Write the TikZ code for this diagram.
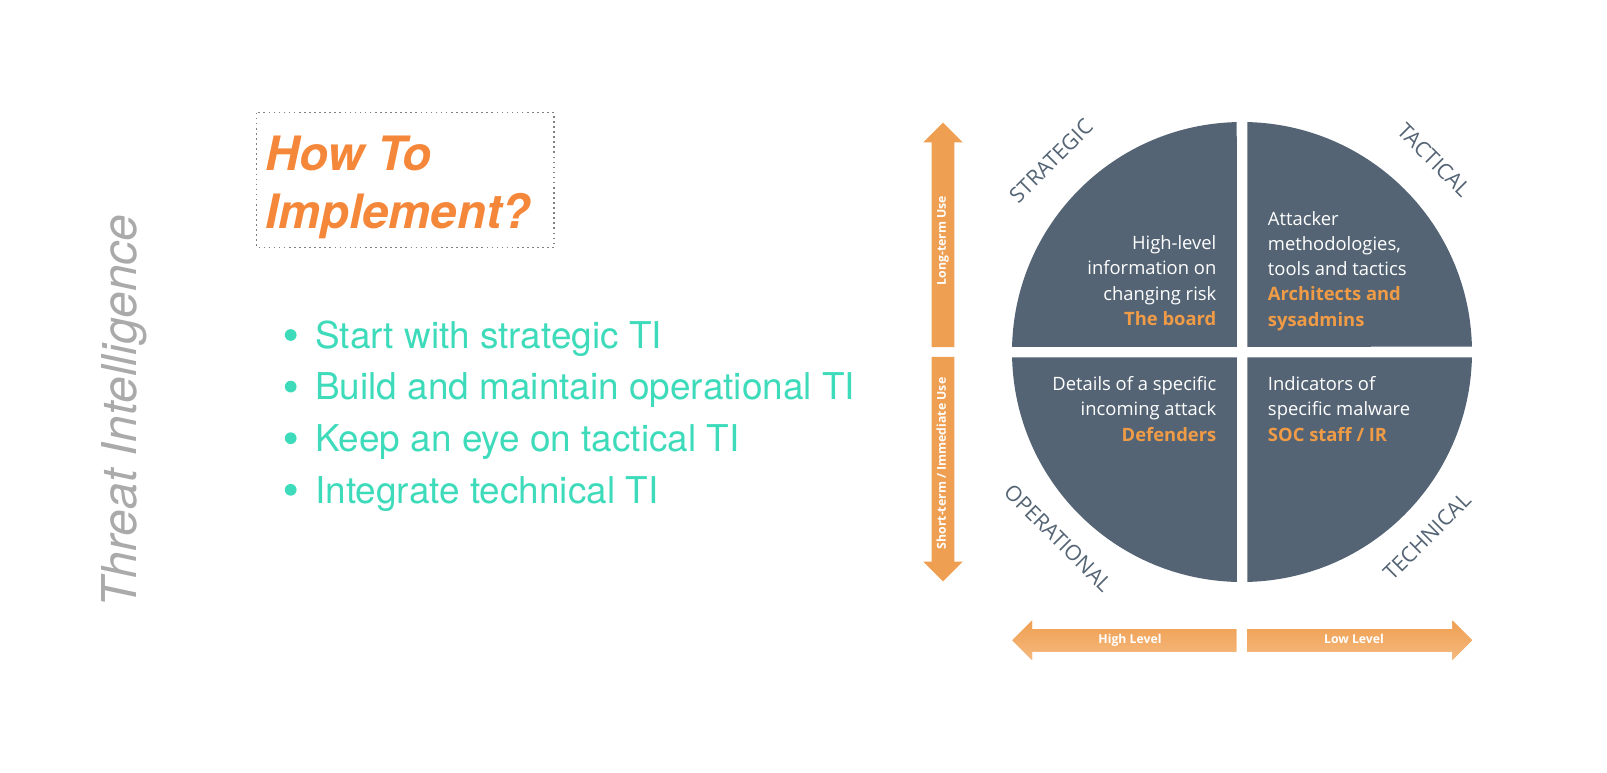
\documentclass[tikz,border=0pt]{standalone}
\usepackage{fontspec}
\setmainfont{TeX Gyre Heros}
\newfontfamily\quadfont{Open Sans}
\usetikzlibrary{shapes.arrows}
\definecolor{slate}{RGB}{84,100,116}
\definecolor{arroworange}{RGB}{239,159,82}
\definecolor{arrowlight}{RGB}{245,185,125}
\definecolor{roleorange}{RGB}{240,155,70}
\definecolor{headorange}{RGB}{245,135,58}
\definecolor{mint}{RGB}{62,219,187}
\definecolor{sidegray}{RGB}{170,170,170}
\newcommand{\rolename}[1]{{\bfseries\color{roleorange}#1}}

\begin{document}
\begin{tikzpicture}[x=0.75pt,y=0.75pt,yscale=-1,xscale=1,
  quadtext/.style={inner sep=0pt, text=white, font=\quadfont\fontsize{13.8}{18.9}\selectfont},
  ringlabel/.style={inner sep=0pt, text=slate, font=\quadfont\fontsize{16}{16}\selectfont},
  usearrow/.style={single arrow, fill=arroworange, draw=none, single arrow head extend=6.4pt,
    single arrow tip angle=90, inner xsep=0pt, inner ysep=4.15pt, text height=6.3pt, text depth=1.9pt,
    text=white, font=\quadfont\bfseries\fontsize{9.2}{10}\selectfont},
  bulletline/.style={anchor=base west, inner sep=0pt, text=mint, font=\fontsize{27.7}{30}\selectfont},
  bulletdot/.style={circle, fill=mint, inner sep=0pt, minimum size=8.8pt}
]
\useasboundingbox (0,0) rectangle (1607,772);

% side title
\node[rotate=90, text=sidegray, font=\itshape\fontsize{36}{36}\selectfont] (sidetitle) at (124,411) {Threat Intelligence};

% heading in dotted box
\draw[color=gray, line width=1.1pt, dash pattern=on 1.2pt off 2.6pt] (256.7,112.7) rectangle (554,247.7);
\node[anchor=north west, inner sep=0pt, align=left, text=headorange, font=\bfseries\itshape\fontsize{35.5}{43.8}\selectfont] (howto) at (265,135.3) {How To\\Implement?};

% bullet list
\foreach \txt [count=\i] in {Start with strategic TI, Build and maintain operational TI, Keep an eye on tactical TI, Integrate technical TI}{
  \pgfmathsetmacro\yy{348.3+51.6*(\i-1)}
  \node[bulletline] (item\i) at (315,\yy) {\txt};
  \node[bulletdot] (dot\i) at (290.7,\yy-13.3) {};
}

%Quadrants
\fill[slate] (1236.75,346.75) -- (1012.06,346.75) arc[start angle=181.31, end angle=268.69, radius=230] -- cycle;
\fill[slate] (1247.25,346.75) -- (1247.25,122.06) arc[start angle=271.31, end angle=358.69, radius=230] -- cycle;
\fill[slate] (1247.25,357.25) -- (1471.94,357.25) arc[start angle=1.31, end angle=88.69, radius=230] -- cycle;
\fill[slate] (1236.75,357.25) -- (1236.75,581.94) arc[start angle=91.31, end angle=178.69, radius=230] -- cycle;

% quadrant texts
\node[quadtext, anchor=north east, align=right] (strategictext) at (1216.6,235.5) {High-level\\information on\\changing risk\\\rolename{The board}};
\node[quadtext, anchor=north west, align=left] (tacticaltext) at (1267.7,211) {Attacker\\methodologies,\\tools and tactics\\\rolename{Architects and}\\\rolename{sysadmins}};
\node[quadtext, anchor=north east, align=right] (operationaltext) at (1216.6,376.3) {Details of a specific\\incoming attack\\\rolename{Defenders}};
\node[quadtext, anchor=north west, align=left] (technicaltext) at (1267.7,376.3) {Indicators of\\specific malware\\\rolename{SOC staff / IR}};

% ring labels
\node[ringlabel, rotate=45] (strategic) at (1051,161) {STRATEGIC};
\node[ringlabel, rotate=-45] (tactical) at (1434,160) {TACTICAL};
\node[ringlabel, rotate=-45] (operational) at (1058,538) {OPERATIONAL};
\node[ringlabel, rotate=45] (technical) at (1427,536.5) {TECHNICAL};

% use arrows
\node[usearrow, rotate=90, minimum height=168.4pt] (longterm) at (943,240.5) {Long-term Use};
\node[usearrow, rotate=90, shape border rotate=180, minimum height=168.4pt] (shortterm) at (943,463.5) {Short-term / Immediate Use};

% level arrows
\node[usearrow, shape border rotate=180, minimum height=168pt, top color=arroworange, bottom color=arrowlight] (highlevel) at (1130,640.3) {High Level};
\node[usearrow, minimum height=168.75pt, top color=arroworange, bottom color=arrowlight] (lowlevel) at (1354,640.3) {Low Level};

\end{tikzpicture}
\end{document}
